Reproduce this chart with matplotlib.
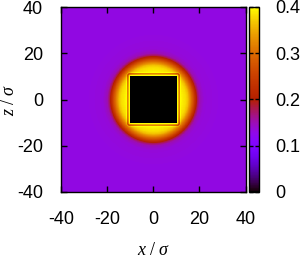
import numpy as np
import matplotlib
matplotlib.use('Agg')
import matplotlib.pyplot as plt

# radial density profile (distance from centre, value)
r_prof = [0.0, 10.0, 12.0, 14.0, 15.0, 16.0, 17.0, 18.0, 19.0, 20.0, 22.0, 30.0, 80.0]
v_prof = [0.40, 0.40, 0.395, 0.38, 0.36, 0.32, 0.28, 0.23, 0.18, 0.15, 0.135, 0.13, 0.13]

# thin layering right at the cube surface (distance from surface, offset)
s_rim = [0.0, 0.35, 0.6, 0.95, 1.3, 1.7, 2.5]
dv_rim = [0.02, 0.02, -0.09, -0.09, 0.02, 0.0, 0.0]

half_box = 10.3
lim = 40
cb_ticks = [0, 0.1, 0.2, 0.3, 0.4]
cb_labels = ['0', '0.1', '0.2', '0.3', '0.4']
ax_ticks = [-40, -20, 0, 20, 40]

plt.rcParams['font.family'] = ['Liberation Sans', 'DejaVu Sans']
plt.rcParams['font.size'] = 13
plt.rcParams['axes.unicode_minus'] = False
plt.rcParams['mathtext.fontset'] = 'custom'
plt.rcParams['mathtext.rm'] = 'Liberation Serif'
plt.rcParams['mathtext.it'] = 'Liberation Serif:italic'

# build the density map
g = np.linspace(-lim, lim, 801)
X, Z = np.meshgrid(g, g)
r = np.sqrt(X**2 + Z**2)
dx = np.clip(np.abs(X) - half_box, 0, None)
dz = np.clip(np.abs(Z) - half_box, 0, None)
s = np.sqrt(dx**2 + dz**2)
rho = np.interp(r, r_prof, v_prof) + np.interp(s, s_rim, dv_rim)
rho = np.clip(rho, 0, 0.4)
inside = (np.abs(X) <= half_box) & (np.abs(Z) <= half_box)
rho[inside] = 0.0

fig = plt.figure(figsize=(3.0, 2.58), dpi=100)
ax = fig.add_axes([61/300, 66/258, 184.5/300, 185/258])
im = ax.imshow(rho, cmap='gnuplot', vmin=0, vmax=0.4, origin='lower',
               extent=[-lim, lim, -lim, lim], aspect='auto', interpolation='nearest')
ax.set_xlim(-lim, lim)
ax.set_ylim(-lim, lim)
ax.set_xticks(ax_ticks)
ax.set_yticks(ax_ticks)
ax.tick_params(direction='in', top=True, right=True, length=4, width=1)
ax.tick_params(axis='x', pad=14)
ax.tick_params(axis='y', pad=13)
for sp in ax.spines.values():
    sp.set_linewidth(1.0)
ax.set_xlabel(r'$x\ /\ \sigma$', fontsize=13)
ax.set_ylabel(r'$z\ /\ \sigma$', fontsize=13)
ax.xaxis.set_label_coords(0.5, -0.27)
ax.yaxis.set_label_coords(-0.235, 0.5)

cax = fig.add_axes([249/300, 66/258, 10/300, 185/258])
cb = fig.colorbar(im, cax=cax, ticks=cb_ticks)
cb.ax.set_yticklabels(cb_labels)
cb.ax.tick_params(direction='in', left=True, right=True, length=3, width=1, pad=12)
cb.outline.set_linewidth(1.0)

fig.savefig('out.png', dpi=100)
